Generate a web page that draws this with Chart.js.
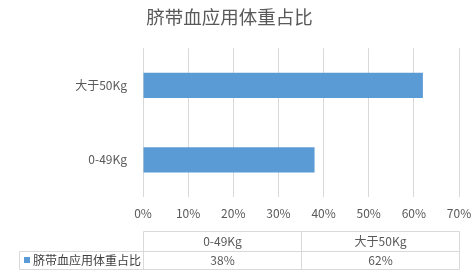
<!DOCTYPE html>
<html lang="zh">
<head>
  <meta charset="UTF-8" />
  <title>脐带血应用体重占比</title>
  <script src="https://cdn.jsdelivr.net/npm/chart.js"></script>
  <style>
    body { margin: 0; background: #fff; }
    #wrap { width: 474px; height: 278px; position: relative; }
  </style>
</head>
<body>
  <div id="wrap"><canvas id="chart"></canvas></div>
  <script>
    // === data ===
    const title = "脐带血应用体重占比";
    const seriesName = "脐带血应用体重占比";
    const categories = ["0-49Kg", "大于50Kg"];
    const values = [38, 62];
    const xTicks = [0, 10, 20, 30, 40, 50, 60, 70];

    const FONT = "'Noto Sans CJK SC', 'Noto Sans', sans-serif";
    const GREY = "#595959";
    const LINE = "#d9d9d9";
    const BLUE = "#5b9bd5";

    // === data table under the x axis ===
    const tablePlugin = {
      id: "dataTable",
      afterDraw(chart) {
        const ctx = chart.ctx;
        const a = chart.chartArea;
        const left = Math.round(a.left) + 0.5;
        const right = Math.round(a.right) + 0.5;
        const top = Math.round(a.bottom) + 34.5;
        const mid = top + 20;
        const bot = mid + 18;
        const legendLeft = 19.5;
        const colW = (right - left) / categories.length;

        ctx.save();
        ctx.strokeStyle = LINE;
        ctx.lineWidth = 1;
        ctx.beginPath();
        ctx.moveTo(left, top); ctx.lineTo(right, top);
        ctx.moveTo(legendLeft, mid); ctx.lineTo(right, mid);
        ctx.moveTo(legendLeft, bot); ctx.lineTo(right, bot);
        ctx.moveTo(legendLeft, mid); ctx.lineTo(legendLeft, bot);
        for (let i = 0; i <= categories.length; i++) {
          const x = Math.round(left + colW * i - 0.5) + 0.5;
          ctx.moveTo(x, top); ctx.lineTo(x, bot);
        }
        ctx.stroke();

        ctx.font = "12px " + FONT;
        ctx.textBaseline = "middle";
        ctx.textAlign = "center";
        ctx.fillStyle = GREY;
        categories.forEach((c, i) => {
          const cx = left + colW * (i + 0.5);
          ctx.fillText(c, cx, (top + mid) / 2);
          ctx.fillText(values[i] + "%", cx, (mid + bot) / 2);
        });

        // legend key
        ctx.fillStyle = BLUE;
        ctx.fillRect(legendLeft + 4.5, mid + 5.5, 6, 6);
        ctx.fillStyle = "#404040";
        ctx.textAlign = "left";
        ctx.fillText(seriesName, legendLeft + 13.5, (mid + bot) / 2);
        ctx.restore();
      }
    };

    new Chart(document.getElementById("chart"), {
      type: "bar",
      data: {
        labels: categories,
        datasets: [{
          label: seriesName,
          data: values,
          backgroundColor: BLUE,
          borderWidth: 0,
          categoryPercentage: 1,
          barPercentage: 0.34
        }]
      },
      options: {
        indexAxis: "y",
        responsive: true,
        maintainAspectRatio: false,
        animation: false,
        layout: { padding: { left: 0, right: 15, top: 0, bottom: 0 } },
        plugins: {
          legend: { display: false },
          tooltip: { enabled: false },
          title: {
            display: true,
            text: title,
            color: GREY,
            font: { family: FONT, size: 18.5, weight: "normal" },
            padding: { top: 6, bottom: 20 }
          }
        },
        scales: {
          x: {
            min: 0,
            max: 70,
            afterBuildTicks(scale) { scale.ticks = xTicks.map(v => ({ value: v })); },
            afterFit(scale) {
              scale.height = 81;
              scale.paddingLeft = 0;
              scale.paddingRight = 0;
            },
            grid: { color: LINE, drawTicks: false },
            border: { display: false },
            ticks: {
              color: GREY,
              font: { family: FONT, size: 12 },
              padding: 9,
              maxRotation: 0,
              callback: v => v + "%"
            }
          },
          y: {
            reverse: true,
            afterFit(scale) {
              scale.width = 143;
              scale.paddingTop = 0;
              scale.paddingBottom = 0;
            },
            grid: { display: false },
            border: { display: false },
            ticks: {
              color: GREY,
              font: { family: FONT, size: 12 },
              padding: 8
            }
          }
        }
      },
      plugins: [tablePlugin]
    });
  </script>
</body>
</html>
